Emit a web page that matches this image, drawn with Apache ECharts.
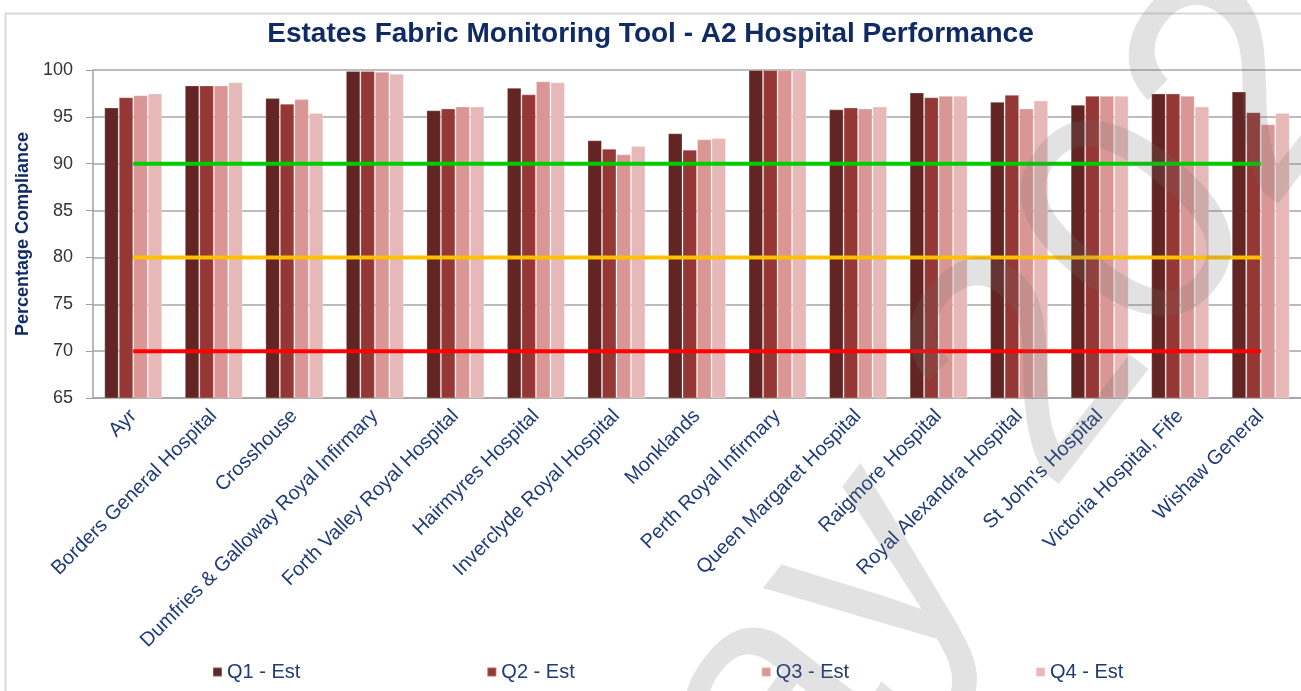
<!DOCTYPE html>
<html>
<head>
<meta charset="utf-8">
<script src="https://cdn.jsdelivr.net/npm/echarts@6/dist/echarts.min.js"></script>
<style>
html,body{margin:0;padding:0;background:#fff;}
#chart{width:1301px;height:691px;}
</style>
</head>
<body>
<div id="chart"></div>
<script>
const categories = ["Ayr","Borders General Hospital","Crosshouse","Dumfries & Galloway Royal Infirmary","Forth Valley Royal Hospital","Hairmyres Hospital","Inverclyde Royal Hospital","Monklands","Perth Royal Infirmary","Queen Margaret Hospital","Raigmore Hospital","Royal Alexandra Hospital","St John's Hospital","Victoria Hospital, Fife","Wishaw General"];
const seriesNames = ["Q1 - Est","Q2 - Est","Q3 - Est","Q4 - Est"];
const q1 = [96.0,98.35,97.0,99.9,95.7,98.1,92.5,93.25,100,95.8,97.6,96.6,96.3,97.5,97.7];
const q2 = [97.1,98.35,96.4,99.9,95.9,97.4,91.6,91.5,100,96.0,97.1,97.35,97.25,97.5,95.5];
const q3 = [97.3,98.35,96.9,99.8,96.1,98.8,91.0,92.6,100,95.9,97.25,95.9,97.25,97.25,94.2];
const q4 = [97.5,98.7,95.4,99.6,96.1,98.7,91.9,92.75,100,96.1,97.25,96.75,97.25,96.1,95.4];
const targetGreen = 90;
const targetAmber = 80;
const targetRed = 70;
const yTicks = [65,70,75,80,85,90,95,100];
const watermark = "May 2022";

const barColors = ["#632523","#953735","#D99694","#E6B9B8"];
const navy = "#1F3A78";
const chart = echarts.init(document.getElementById('chart'));
const qData = [q1,q2,q3,q4];
const bars = qData.map((d,i)=>({
  name: seriesNames[i], type:'bar', data:d, barGap:'0%', barCategoryGap:'28%',
  itemStyle:{color:barColors[i], borderColor:'rgba(255,255,255,0.25)', borderWidth:1},
  z:2
}));
function line(v,color){
  return {type:'line', data:categories.map(()=>v), symbol:'none', silent:true,
    lineStyle:{color:color,width:4}, itemStyle:{color:color}, z:3};
}
chart.setOption({
  animation:false,
  title:{text:"Estates Fabric Monitoring Tool - A2 Hospital Performance", left:'center', top:15,
    textStyle:{fontFamily:'Liberation Sans', fontWeight:'bold', fontSize:28, color:'#0F2A65'}},
  grid:{left:93, right:0, top:70, bottom:293},
  legend:{data:seriesNames, bottom:4, left:207, itemGap:186, itemWidth:9, itemHeight:9, icon:'rect',
    textStyle:{fontFamily:'Liberation Sans', fontSize:20, color:navy}},
  xAxis:{type:'category', data:categories,
    axisLine:{lineStyle:{color:'#A0A0A0', width:1.5}},
    axisTick:{length:6, lineStyle:{color:'#A0A0A0'}},
    axisLabel:{rotate:45, interval:0, margin:15, fontFamily:'Liberation Sans', fontSize:20, color:navy}},
  yAxis:{type:'value', min:yTicks[0], max:yTicks[yTicks.length-1], interval:5,
    name:'Percentage Compliance', nameLocation:'middle', nameGap:58,
    nameTextStyle:{fontFamily:'Liberation Sans', fontWeight:'bold', fontSize:18, color:'#0F2A65'},
    axisLine:{show:true, lineStyle:{color:'#A0A0A0', width:1.5}},
    axisTick:{show:true, length:7, lineStyle:{color:'#A0A0A0'}},
    axisLabel:{margin:20, fontFamily:'Liberation Sans', fontSize:18, color:'#333'},
    splitLine:{lineStyle:{color:'#A6A6A6', width:1.5}}},
  series:[...bars, line(targetGreen,'#00CC00'), line(targetAmber,'#FFC000'), line(targetRed,'#FF0000')],
  graphic:[
    {type:'rect', left:3, top:11, shape:{width:1320, height:700}, style:{fill:'none', stroke:'#D9D9D9', lineWidth:2}, z:-1, silent:true},
    {type:'text', x:985, y:435, rotation:Math.PI/180*52, z:100, silent:true,
      style:{text:watermark, fontFamily:'Liberation Sans', fontSize:320, fill:'rgba(110,110,110,0.2)', textAlign:'center', textVerticalAlign:'middle'}}
  ]
});
</script>
</body>
</html>
